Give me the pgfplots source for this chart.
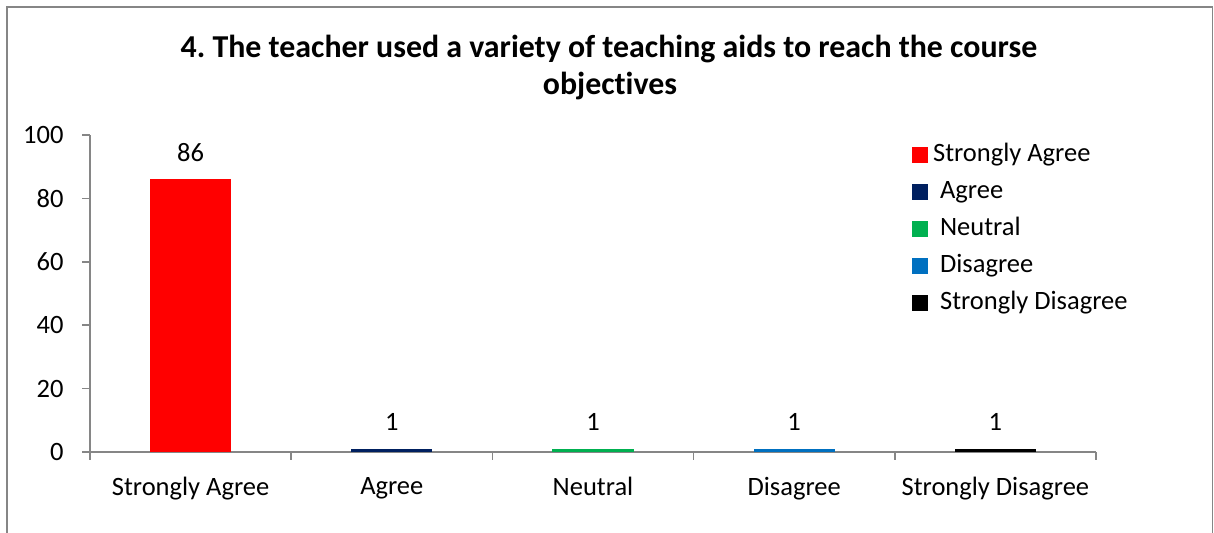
\documentclass[border=0pt]{standalone}
\usepackage{fontspec}
\setmainfont{Carlito}[Ligatures={NoCommon}]
\usepackage{pgfplots}
\pgfplotsset{compat=1.18}
\definecolor{sa}{HTML}{FF0000}
\definecolor{ag}{HTML}{002060}
\definecolor{ne}{HTML}{00B050}
\definecolor{di}{HTML}{0070C0}
\definecolor{sd}{HTML}{000000}
\definecolor{axgray}{HTML}{868686}
\newcommand{\lblfont}{\fontsize{26.6}{31}\selectfont}
\frenchspacing
\begin{document}
\begin{tikzpicture}[x=1bp,y=1bp]
\useasboundingbox (0,0) rectangle (1214,533);
\begin{scope}
\clip (0,0) rectangle (1214,533);
\draw[axgray, line width=1.5bp] (7,-20) rectangle (1212.5,526);
\end{scope}
\node[font=\fontsize{32}{37}\selectfont\bfseries, inner sep=0pt, anchor=base] at (609,475) {4. The teacher used a variety of teaching aids to reach the course};
\node[font=\fontsize{32}{37}\selectfont\bfseries, inner sep=0pt, anchor=base] at (610,438) {objectives};
\begin{axis}[
  at={(90bp,81bp)}, anchor=south west,
  scale only axis, width=1006bp, height=317bp,
  xmin=-0.5, xmax=4.5, ymin=0, ymax=100,
  axis x line*=bottom, axis y line*=left,
  axis line style={draw=axgray, line width=1.5bp},
  ytick={0,20,40,60,80,100},
  xtick={-0.5,0.5,1.5,2.5,3.5,4.5},
  x tick label as interval,
  xticklabels={Strongly Agree,Agree,Neutral,Disagree,Strongly Disagree},
  tick align=outside, major tick length=8bp,
  tick style={draw=axgray, line width=1.5bp},
  /pgf/number format/assume math mode=true,
  ticklabel style={font=\lblfont, text=black},
  yticklabel style={xshift=-15bp},
  xticklabel style={yshift=-14bp},
  ybar, bar width=81bp, bar shift=0pt,
  nodes near coords,
  every node near coord/.append style={font=\lblfont, text=black, yshift=14.5bp},
  legend style={at={(0.817,1)}, anchor=north west, draw=none, fill=none,
    font=\lblfont, row sep=12bp, inner sep=0pt, yshift=-7bp,
    nodes={inner sep=0pt, text height=19bp, text depth=6bp}},
  legend cell align=left,
  legend image code/.code={\fill[#1,draw=none] (0bp,-8bp) rectangle (16bp,8bp);},
]
\addplot[fill=sa, draw=none] coordinates {(0,86)};
\addplot[fill=ag, draw=none] coordinates {(1,1)};
\addplot[fill=ne, draw=none] coordinates {(2,1)};
\addplot[fill=di, draw=none] coordinates {(3,1)};
\addplot[fill=sd, draw=none] coordinates {(4,1)};
\legend{\hspace{5bp}Strongly Agree,\hspace{12bp}Agree,\hspace{12bp}Neutral,\hspace{12bp}Disagree,\hspace{12bp}Strongly Disagree}
\end{axis}
\end{tikzpicture}
\end{document}
